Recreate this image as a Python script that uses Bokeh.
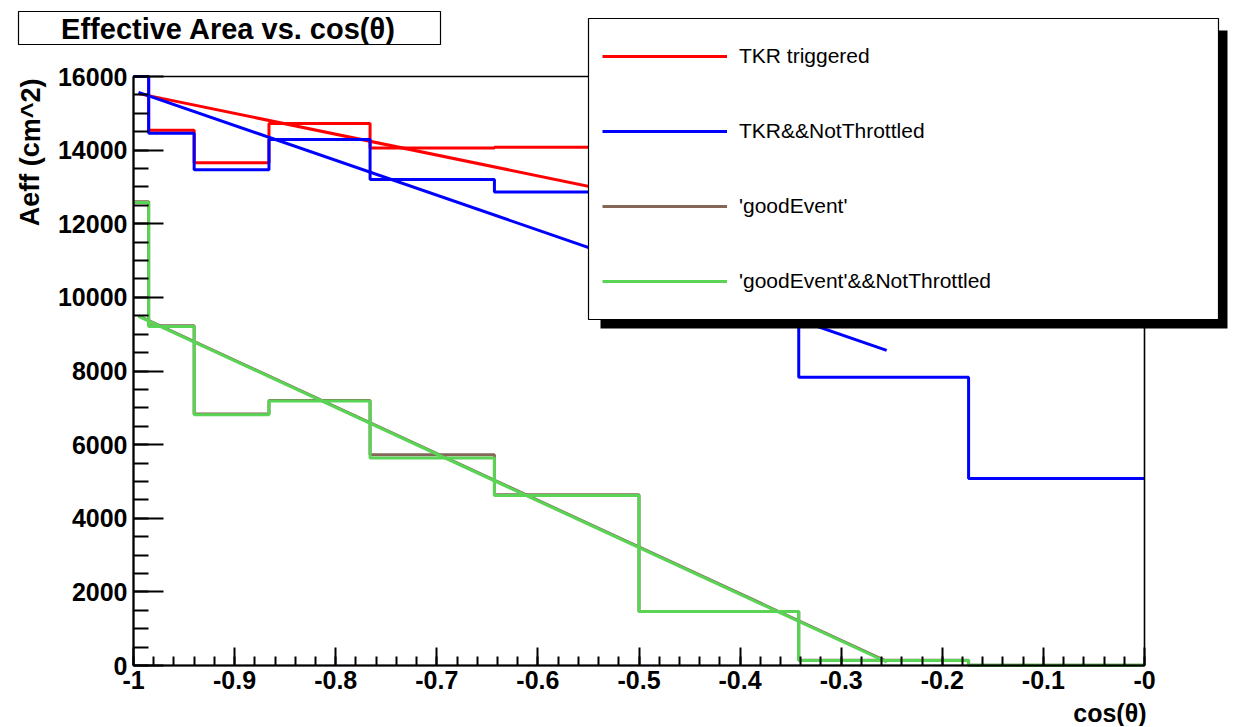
from bokeh.plotting import figure
from bokeh.models import (Range1d, FixedTicker, Label, BoxAnnotation, Legend,
                          LegendItem, LinearAxis)
from bokeh.embed import file_html
from bokeh.resources import INLINE

# ---------------- data ----------------
# bin edges in cos(theta) (10 degree bins in theta)
bin_edges = [-1.0, -0.985, -0.940, -0.866, -0.766, -0.643, -0.500, -0.342, -0.174, 0.0]

tkr_triggered = [16600, 14540, 13660, 14720, 14060, 14080, 13300, 12400, 11200]
tkr_not_throttled = [16900, 14460, 13470, 14290, 13200, 12860, 10800, 7830, 5080]
good_event = [12600, 9230, 6830, 7200, 5725, 4640, 1470, 140, 10]
good_event_not_throttled = [12575, 9212, 6812, 7183, 5634, 4620, 1467, 136, 5]

# straight-line fits (start / end)
fit_x = [-0.995, -0.255]
fit_tkr_triggered = [15535, 11350]
fit_tkr_not_throttled = [15570, 8560]
fit_good_event = [9500, 110]
fit_good_event_not_throttled = [9484, 95]

series_names = ["TKR triggered", "TKR&&NotThrottled", "'goodEvent'",
                "'goodEvent'&&NotThrottled"]
series_colors = ["#ff0000", "#0000ff", "#85675a", "#59d454"]

x_tick_values = [-1.0, -0.9, -0.8, -0.7, -0.6, -0.5, -0.4, -0.3, -0.2, -0.1, 0.0]
x_tick_labels = ["-1", "-0.9", "-0.8", "-0.7", "-0.6", "-0.5", "-0.4", "-0.3",
                 "-0.2", "-0.1", "-0"]
x_minor_ticks = [round(-1 + 0.02 * i, 2) for i in range(51)]
y_tick_values = [0, 2000, 4000, 6000, 8000, 10000, 12000, 14000, 16000]
y_minor_ticks = [500 * i for i in range(33)]

X_MIN, X_MAX = -1.0, 0.0
Y_MIN, Y_MAX = 0, 16000

title_text = "Effective Area vs. cos(\u03b8)"
x_title = "cos(\u03b8)"
y_title = "Aeff (cm^2)"

FONT = "Liberation Sans"

# ---------------- layout (pixels) ----------------
W, H = 1230, 726
AX_L, AX_R, AX_T, AX_B = 133, 1144, 76, 665   # data-area edges in px

sx = (X_MAX - X_MIN) / (AX_R - AX_L)
sy = (Y_MAX - Y_MIN) / (AX_B - AX_T)
x_range = Range1d(X_MIN - AX_L * sx, X_MAX + (W - AX_R) * sx)
y_range = Range1d(Y_MIN - (H - AX_B) * sy, Y_MAX + AX_T * sy)

p = figure(width=W, height=H, output_backend="svg", toolbar_location=None,
           x_range=x_range, y_range=y_range, x_axis_type=None,
           y_axis_type=None, title=None, min_border=0)
p.grid.visible = False
p.background_fill_color = "white"
p.border_fill_color = "white"
p.outline_line_color = None

# axes (library axes, pinned to the data-area edges)
xaxis = LinearAxis(fixed_location=Y_MIN, bounds=(X_MIN, X_MAX),
                   ticker=FixedTicker(ticks=x_tick_values, minor_ticks=x_minor_ticks),
                   major_label_overrides=dict(zip(x_tick_values, x_tick_labels)))
yaxis = LinearAxis(fixed_location=X_MIN, bounds=(Y_MIN, Y_MAX),
                   ticker=FixedTicker(ticks=y_tick_values, minor_ticks=y_minor_ticks),
                   major_label_overrides={v: str(v) for v in y_tick_values})
for ax in (xaxis, yaxis):
    ax.axis_line_width = 2
    ax.axis_line_color = "black"
    ax.major_tick_line_width = 2
    ax.minor_tick_line_width = 2
    ax.major_tick_line_color = "black"
    ax.minor_tick_line_color = "black"
    ax.major_tick_out = 0
    ax.minor_tick_out = 0
    ax.major_label_text_font = FONT
    ax.major_label_text_font_style = "bold"
    ax.major_label_text_font_size = "25px"
    ax.major_label_text_color = "black"
xaxis.major_tick_in = 18
xaxis.minor_tick_in = 9
xaxis.major_label_standoff = 5
yaxis.major_tick_in = 30
yaxis.minor_tick_in = 15
yaxis.major_label_standoff = 6
p.add_layout(xaxis, "below")
p.add_layout(yaxis, "left")

# ---------------- histograms and fits ----------------
hists = [tkr_triggered, tkr_not_throttled, good_event, good_event_not_throttled]
fits = [fit_tkr_triggered, fit_tkr_not_throttled, fit_good_event,
        fit_good_event_not_throttled]
hist_renderers = []
for i in range(4):
    vals = [min(v, Y_MAX) for v in hists[i]]       # clip at the frame top
    vals = vals + [vals[-1]]
    r = p.step(x=bin_edges, y=vals, mode="after", line_color=series_colors[i],
               line_width=3)
    hist_renderers.append(r)
    p.line(x=fit_x, y=fits[i], line_color=series_colors[i], line_width=3)

# frame of the data area
p.add_layout(BoxAnnotation(left=X_MIN, right=X_MAX, bottom=Y_MIN, top=Y_MAX,
                           fill_alpha=0, line_color="black", line_alpha=1,
                           line_width=1.6))


def box(l, t, r, b, **kw):
    """Screen-pixel box, given in top-left-origin pixels."""
    return BoxAnnotation(left=l, right=r, top=H - t, bottom=H - b,
                         left_units="screen", right_units="screen",
                         top_units="screen", bottom_units="screen", **kw)


# ---------------- title box ----------------
p.add_layout(box(18, 11, 440, 44, fill_color="white", fill_alpha=1,
                 line_color="black", line_alpha=1, line_width=1.2))
p.add_layout(Label(x=228, y=H - 28, x_units="screen", y_units="screen",
                   text=title_text, text_font=FONT, text_font_style="bold",
                   text_font_size="29px", text_align="center",
                   text_baseline="middle", text_color="black"))

# axis titles
p.add_layout(Label(x=1146, y=H - 712, x_units="screen", y_units="screen",
                   text=x_title, text_font=FONT, text_font_style="bold",
                   text_font_size="25px", text_align="right",
                   text_baseline="middle", text_color="black"))
p.add_layout(Label(x=30, y=H - 78, x_units="screen", y_units="screen",
                   text=y_title, text_font=FONT, text_font_style="bold",
                   text_font_size="27px", text_align="right", angle=1.5707963,
                   text_baseline="middle", text_color="black"))

# ---------------- legend with shadow ----------------
p.add_layout(box(600, 30, 1227, 328, fill_color="black", fill_alpha=1,
                 line_alpha=0))
p.add_layout(box(588, 18, 1218, 319, fill_color="white", fill_alpha=1,
                 line_color="black", line_alpha=1, line_width=1.2))

items = [LegendItem(label=series_names[i], renderers=[hist_renderers[i]])
         for i in range(4)]
legend = Legend(items=items, location=(592, H - 303), orientation="vertical",
                glyph_width=125, glyph_height=20, label_height=20, spacing=51,
                padding=10, margin=0, label_standoff=12,
                border_line_alpha=0, background_fill_alpha=0,
                label_text_font=FONT, label_text_font_size="21px",
                label_text_color="black")
p.add_layout(legend, "center")

open("out.html", "w").write(file_html(p, INLINE))
